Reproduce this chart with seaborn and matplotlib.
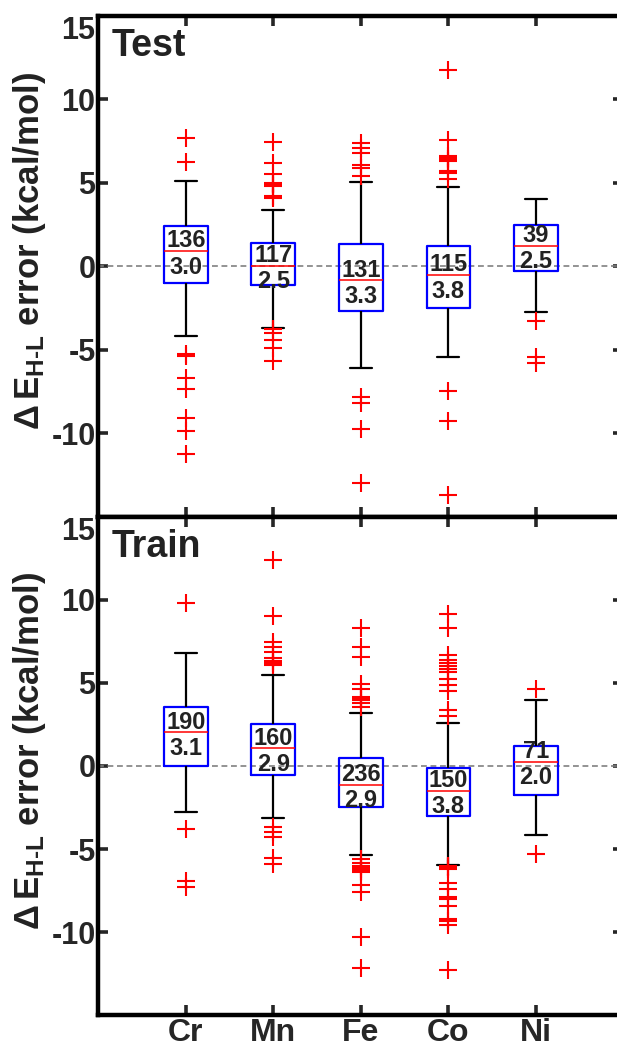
import pandas as pd
import matplotlib.pyplot as plt
import seaborn as sns

# ===============================
# Values
# ===============================
elements = ['Cr', 'Mn', 'Fe', 'Co', 'Ni']

# Test set: whisker low, q1, median, q3, whisker high
test_low = [-4.2, -3.68, -6.1, -5.42, -2.76]
test_q1 = [-1.03, -1.16, -2.68, -2.48, -0.32]
test_med = [0.89, 0.0, -0.86, -0.54, 1.2]
test_q3 = [2.41, 1.36, 1.32, 1.18, 2.44]
test_high = [5.12, 3.34, 5.04, 4.74, 4.02]
test_n = [136, 117, 131, 115, 39]
test_mae = [3.0, 2.5, 3.3, 3.8, 2.5]
test_outliers = {
    'Cr': [7.7, 6.22, -5.25, -5.4, -6.7, -7.35, -9.1, -9.85, -11.25],
    'Mn': [7.42, 6.2, 5.54, 5.0, 4.95, 4.9, 4.8, 4.2, 4.15, 4.1,
           -3.75, -4.0, -4.4, -4.9, -5.7],
    'Fe': [7.4, 7.05, 6.75, 6.05, 5.85, 5.4, -7.85, -8.2, -9.75, -13.0],
    'Co': [11.75, 7.55, 6.6, 6.5, 6.4, 6.3, 5.7, 5.6, 5.2, -7.48, -9.3, -13.7],
    'Ni': [-3.26, -5.45, -5.8],
}

# Train set
train_low = [-2.78, -3.12, -5.34, -5.94, -4.14]
train_q1 = [0.0, -0.55, -2.5, -3.04, -1.72]
train_med = [2.02, 1.05, -1.14, -1.5, 0.23]
train_q3 = [3.56, 2.51, 0.45, -0.1, 1.19]
train_high = [6.82, 5.47, 3.21, 2.61, 3.95]
train_n = [190, 160, 236, 150, 71]
train_mae = [3.1, 2.9, 2.9, 3.8, 2.0]
train_outliers = {
    'Cr': [9.8, -3.8, -6.95, -7.3],
    'Mn': [12.4, 9.0, 7.45, 7.15, 6.85, 6.5, 6.3, 6.2, 6.15, 6.1,
           -3.7, -3.95, -4.25, -5.55, -5.9],
    'Fe': [8.3, 7.15, 6.55, 4.95, 4.6, 4.15, 4.05, 3.95, 3.8, 3.55,
           -5.6, -5.85, -6.0, -6.1, -6.2, -6.3, -6.4, -7.15, -7.6, -10.3, -12.15],
    'Co': [9.15, 8.3, 6.7, 6.4, 6.2, 6.0, 5.85, 5.65, 5.25, 4.85, 4.5, 3.35, 3.0,
           -6.0, -6.05, -6.1, -6.2, -7.05, -7.4, -7.9, -8.0, -8.45, -9.2, -9.35,
           -9.55, -12.25],
    'Ni': [4.6, -5.3],
}

# ===============================
# Style
# ===============================
sns.set_style('ticks')
plt.rcParams['font.family'] = ['Liberation Sans', 'DejaVu Sans']
plt.rcParams['font.weight'] = 'bold'
plt.rcParams['axes.unicode_minus'] = False
plt.rcParams['mathtext.fontset'] = 'custom'
plt.rcParams['mathtext.rm'] = 'Liberation Sans:bold'
plt.rcParams['mathtext.bf'] = 'Liberation Sans:bold'
plt.rcParams['mathtext.it'] = 'Liberation Sans:bold'

TEXT = '#222222'


def draw_panel(ax, name, low, q1, med, q3, high, n, mae, outliers, show_x):
    rows = []
    for i, el in enumerate(elements):
        for v in (low[i], q1[i], med[i], q3[i], high[i]):
            rows.append((el, v))
    box_df = pd.DataFrame(rows, columns=['metal', 'err'])
    out_df = pd.DataFrame([(el, v) for el in elements for v in outliers[el]],
                          columns=['metal', 'err'])

    ax.axhline(0, color='#808080', lw=1.2, dashes=(3.5, 2.2), zorder=1)
    sns.boxplot(data=box_df, x='metal', y='err', order=elements, whis=(0, 100),
                width=0.5, fill=False, showfliers=False, linewidth=1.5,
                boxprops=dict(color='#0000ff', linewidth=1.6),
                medianprops=dict(color='#ff0000', linewidth=1.1),
                whiskerprops=dict(color='black', linewidth=1.6),
                capprops=dict(color='black', linewidth=1.6), ax=ax)
    sns.stripplot(data=out_df, x='metal', y='err', order=elements, jitter=False,
                  marker='+', color='#ff0000', size=13, linewidth=1.5,
                  zorder=4, ax=ax)

    for i in range(len(elements)):
        ax.text(i, med[i] + 0.62, str(n[i]), ha='center', va='center',
                fontsize=17, fontweight='bold', color=TEXT, zorder=5)
        ax.text(i, med[i] - 0.95, f'{mae[i]:.1f}', ha='center', va='center',
                fontsize=17, fontweight='bold', color=TEXT, zorder=5)

    ax.text(0.026, 0.939, name, transform=ax.transAxes, ha='left', va='center',
            fontsize=27, fontweight='bold', color=TEXT)

    ax.set_xlim(-1, 5)
    ax.set_ylim(-15, 15)
    ax.set_yticks([-10, -5, 0, 5, 10, 15])
    ax.set_xlabel('')
    ax.set_ylabel(r'$\Delta\,\mathrm{E}_{\mathrm{H\text{-}L}}$ error (kcal/mol)',
                  fontsize=25, fontweight='bold', color=TEXT)
    ax.yaxis.set_label_coords(-0.095, 0.53)
    for s in ax.spines.values():
        s.set_linewidth(3.2)
        s.set_color('black')
    ax.tick_params(direction='in', length=7, width=2.6, top=True, right=True,
                   labelsize=22, pad=2)
    ax.tick_params(axis='x', labelsize=23, pad=2, labelbottom=show_x)
    # the top label sits just under its tick in the original
    ax.get_yticklabels()[-1].set_verticalalignment('top')


fig = plt.figure(figsize=(6.17, 10.49), dpi=100)
ax_test = fig.add_axes([0.1593, 0.5076, 0.8512, 0.4774])
ax_train = fig.add_axes([0.1593, 0.0321, 0.8512, 0.4755])

draw_panel(ax_test, 'Test', test_low, test_q1, test_med, test_q3, test_high,
           test_n, test_mae, test_outliers, False)
draw_panel(ax_train, 'Train', train_low, train_q1, train_med, train_q3, train_high,
           train_n, train_mae, train_outliers, True)

plt.savefig('out.png', dpi=100)
plt.close()
